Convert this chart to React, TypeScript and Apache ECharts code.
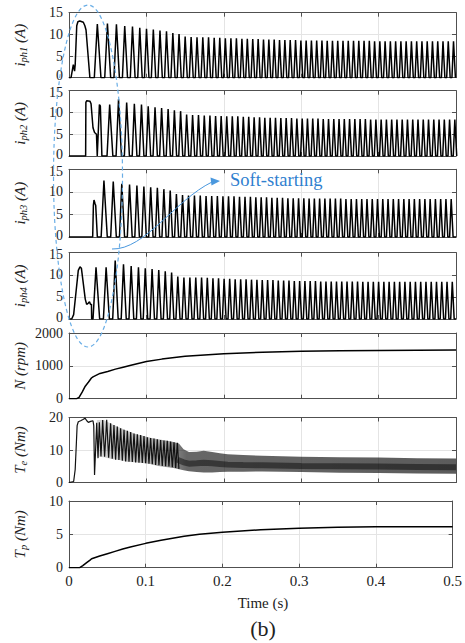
import React, { useEffect, useRef } from 'react';
import * as echarts from 'echarts';

// ---------- data (times in ms) ----------
const X_TICK_STEP = 0.1;

// phase 1 current: start-up transient points [ms, A], then regular pulses (peak time ms, peak A)
const PH1_START: [number, number][] = [[0, 0], [2.6, 0], [5.6, 3], [7.2, 1.5], [8, 3], [10, 12], [11.5, 12.9], [14, 13.1], [18.5, 12.8], [20.5, 12], [22, 11], [27, 0]];
const PH1_T = [37, 50, 61.6, 72.3, 82.3, 91.7, 100.4, 109.2, 117.8, 126.2, 134.4, 142.4, 150.3, 158.0, 165.6, 173.1, 180.5, 187.8, 195.0, 202.2, 209.4, 216.5, 223.6, 230.6, 237.6, 244.6, 251.5, 258.4, 265.3, 272.2, 279.1, 286.0, 292.9, 299.8, 306.6, 313.4, 320.2, 327.0, 333.8, 340.6, 347.4, 354.2, 361.0, 367.8, 374.6, 381.4, 388.2, 395.0, 401.8, 408.6, 415.4, 422.2, 429.0, 435.8, 442.6, 449.4, 456.2, 463.0, 469.8, 476.6, 483.4, 490.2, 497.0];
const PH1_A = [12.4, 12.5, 12.3, 11.9, 11.8, 11.5, 11.3, 11.1, 10.9, 10.7, 10.3, 10.1, 9.5, 9.4, 9.3, 9.3, 9.3, 9.2, 9.2, 9.1, 9.1, 9.1, 9.0, 9.0, 8.9, 8.9, 8.8, 8.8, 8.8, 8.7, 8.7, 8.7, 8.7, 8.6, 8.6, 8.6, 8.6, 8.6, 8.5, 8.5, 8.5, 8.5, 8.5, 8.5, 8.5, 8.5, 8.5, 8.4, 8.4, 8.4, 8.4, 8.4, 8.4, 8.4, 8.4, 8.4, 8.4, 8.4, 8.4, 8.4, 8.4, 8.4, 8.4];

const PH2_START: [number, number][] = [[0, 0], [21.5, 0], [21.8, 12.3], [23, 12.7], [27, 12.6], [28.5, 12], [31, 6.5], [33, 5.4], [35.5, 5], [36.5, 0], [37.3, 0], [39.3, 11.8], [40.5, 11.5], [42.5, 0]];
const PH2_T = [52.9, 64.3, 74.8, 84.7, 93.9, 102.6, 111.4, 119.9, 128.3, 136.4, 144.4, 152.2, 159.9, 167.5, 175.0, 182.3, 189.6, 196.8, 204.0, 211.2, 218.3, 225.4, 232.4, 239.4, 246.4, 253.2, 260.1, 267.0, 273.9, 280.8, 287.7, 294.6, 301.5, 308.3, 315.1, 321.9, 328.7, 335.5, 342.3, 349.1, 355.9, 362.7, 369.5, 376.3, 383.1, 389.9, 396.7, 403.5, 410.3, 417.1, 423.9, 430.7, 437.5, 444.3, 451.1, 457.9, 464.7, 471.5, 478.3, 485.1, 491.9, 498.7];
const PH2_A = [11.8, 13.0, 12.3, 12.0, 11.8, 11.4, 11.2, 11.0, 10.8, 10.5, 10.3, 9.5, 9.4, 9.4, 9.3, 9.3, 9.2, 9.2, 9.1, 9.1, 9.1, 9.0, 9.0, 8.9, 8.9, 8.8, 8.8, 8.8, 8.7, 8.7, 8.7, 8.6, 8.6, 8.6, 8.6, 8.6, 8.5, 8.5, 8.5, 8.5, 8.5, 8.5, 8.5, 8.5, 8.5, 8.4, 8.4, 8.4, 8.4, 8.4, 8.4, 8.4, 8.4, 8.4, 8.4, 8.4, 8.4, 8.4, 8.4, 8.4, 8.4, 8.4];

const PH3_START: [number, number][] = [[0, 0], [30.6, 0], [31.5, 7], [32.3, 8.2], [33.5, 7.5], [34.5, 7], [36.6, 0]];
const PH3_T = [45.5, 57.5, 68.5, 78.5, 88.0, 97.0, 105.8, 114.4, 122.8, 131.0, 139.0, 146.9, 154.6, 162.3, 169.8, 177.3, 184.6, 191.9, 199.1, 206.3, 213.4, 220.5, 227.6, 234.6, 241.6, 248.5, 255.4, 262.3, 269.2, 276.1, 283.0, 289.9, 296.8, 303.6, 310.4, 317.2, 324.0, 330.8, 337.6, 344.4, 351.2, 358.0, 364.8, 371.6, 378.4, 385.2, 392.0, 398.8, 405.6, 412.4, 419.2, 426.0, 432.8, 439.6, 446.4, 453.2, 460.0, 466.8, 473.6, 480.4, 487.2, 494.0];
const PH3_A = [12.5, 12.3, 11.8, 11.6, 11.4, 11.2, 11.0, 10.9, 10.6, 10.3, 9.5, 9.3, 9.2, 9.2, 9.2, 9.1, 9.1, 9.1, 9.0, 9.0, 9.0, 8.9, 8.9, 8.9, 8.8, 8.8, 8.8, 8.7, 8.7, 8.7, 8.6, 8.6, 8.6, 8.6, 8.5, 8.5, 8.5, 8.5, 8.5, 8.5, 8.5, 8.4, 8.4, 8.4, 8.4, 8.4, 8.4, 8.4, 8.4, 8.4, 8.4, 8.4, 8.4, 8.4, 8.4, 8.4, 8.4, 8.4, 8.4, 8.4, 8.4, 8.4];

const PH4_START: [number, number][] = [[0, 0], [3.5, 0], [6, 1], [9, 6], [12, 11], [14.2, 11.8], [16, 11.5], [18.5, 8], [21, 4.5], [22.8, 3.3], [25, 3.6], [26.5, 3.9], [28, 3.2], [29, 3.4], [29.3, 0]];
const PH4_T = [35.3, 48.3, 60.0, 70.7, 80.6, 90.0, 98.8, 107.6, 116.2, 124.6, 132.8, 140.8, 148.7, 156.4, 164.0, 171.5, 178.9, 186.2, 193.4, 200.6, 207.8, 214.9, 222.0, 229.0, 236.0, 243.0, 249.9, 256.8, 263.7, 270.6, 277.5, 284.4, 291.3, 298.2, 305.0, 311.8, 318.6, 325.4, 332.2, 339.0, 345.8, 352.6, 359.4, 366.2, 373.0, 379.8, 386.6, 393.4, 400.2, 407.0, 413.8, 420.6, 427.4, 434.2, 441.0, 447.8, 454.6, 461.4, 468.2, 475.0, 481.8, 488.6, 495.4];
const PH4_A = [11.7, 11.7, 13.2, 12.4, 12.0, 11.7, 11.5, 11.3, 11.1, 10.8, 10.5, 9.6, 9.4, 9.4, 9.4, 9.4, 9.3, 9.2, 9.2, 9.1, 9.1, 9.0, 9.0, 9.0, 8.9, 8.9, 8.8, 8.8, 8.8, 8.7, 8.7, 8.7, 8.6, 8.6, 8.6, 8.6, 8.6, 8.5, 8.5, 8.5, 8.5, 8.5, 8.5, 8.5, 8.5, 8.4, 8.4, 8.4, 8.4, 8.4, 8.4, 8.4, 8.4, 8.4, 8.4, 8.4, 8.4, 8.4, 8.4, 8.4, 8.4, 8.4, 8.4];

// speed [ms, rpm]
const SPEED: [number, number][] = [[0, 0], [10, 0], [13, 40], [17, 200], [21, 380], [25, 500], [29, 630], [31, 665], [40, 770], [50, 830], [60, 900], [70, 960], [80, 1020], [100, 1130], [120, 1205], [150, 1290], [200, 1370], [250, 1415], [300, 1443], [350, 1458], [400, 1467], [450, 1475], [500, 1482]];

// electromagnetic torque [ms, Nm]
const TE_START: [number, number][] = [[0, 0], [6, 0.3], [8, 4], [9.5, 12], [10.5, 17.5], [12, 18.7], [15, 19.0], [18, 19.4], [20.7, 19.8], [23, 19.0], [25, 18.5], [28, 18.8], [31, 19.0], [32, 17.5], [33, 2.3], [34.2, 9], [35.8, 18.4], [37.5, 7.5]];
const TE_SPIKE_T = [39.2, 43.5, 48.7, 53.8, 58.1, 62.4, 66.7, 71.1, 75.4, 79.7, 84.0, 88.3, 92.6, 96.9, 101.2, 105.5, 109.8, 114.1, 118.4, 122.7, 127.0, 131.3, 135.7, 140.0];
const TE_SPIKE_HI = [18.5, 19.2, 19.3, 18.2, 17.7, 17.2, 16.7, 16.2, 15.9, 15.5, 15.1, 14.8, 14.6, 14.3, 13.9, 13.7, 13.5, 13.3, 13.1, 12.9, 12.8, 12.6, 12.4, 12.2];
const TE_TROUGH_T = [41.3, 46.0, 51.2, 55.9, 60.2, 64.5, 68.9, 73.2, 77.5, 81.8, 86.1, 90.4, 94.7, 99.0, 103.3, 107.6, 111.9, 116.2, 120.5, 124.8, 129.1, 133.5, 137.8, 142.0];
const TE_TROUGH_LO = [8.0, 7.9, 7.6, 7.3, 7.0, 6.9, 6.7, 6.5, 6.4, 6.3, 6.2, 6.1, 6.0, 5.9, 5.8, 5.6, 5.4, 5.3, 5.1, 5.0, 4.9, 4.7, 4.5, 4.2];
const TE_ENV_T = [36, 45, 55, 65, 75, 85, 95, 105, 115, 125, 135, 142, 148, 155, 165, 174, 185, 195, 205, 225, 250, 300, 350, 400, 450, 500];
const TE_ENV_HI = [19.2, 19.2, 18.0, 16.9, 15.9, 15.0, 14.4, 13.8, 13.3, 12.9, 12.5, 12.0, 10.2, 9.4, 9.5, 9.8, 9.4, 9.0, 8.7, 8.5, 8.2, 7.9, 7.8, 7.7, 7.5, 7.4];
const TE_ENV_LO = [8.0, 7.8, 7.2, 6.9, 6.4, 6.2, 6.0, 5.7, 5.1, 4.8, 4.5, 4.1, 3.8, 3.5, 3.2, 3.1, 3.1, 3.2, 3.3, 3.3, 3.4, 3.2, 3.0, 2.9, 2.8, 2.7];
const TE_CORE: [number, number][] = [[140, 7.0], [148, 6.2], [155, 5.8], [165, 5.9], [174, 6.1], [185, 5.9], [195, 5.7], [205, 5.5], [225, 5.4], [250, 5.3], [300, 5.1], [350, 5.0], [400, 4.9], [450, 4.8], [500, 4.7]];

// load torque [ms, Nm]
const TP: [number, number][] = [[0, 0], [14, 0], [18, 0.3], [23, 0.75], [27, 1.1], [29.5, 1.35], [40, 1.75], [50, 2.1], [60, 2.45], [70, 2.8], [80, 3.1], [100, 3.65], [120, 4.1], [135, 4.4], [150, 4.7], [170, 5.0], [200, 5.3], [250, 5.7], [300, 5.9], [350, 6.05], [400, 6.15], [450, 6.15], [500, 6.15]];

const Y_RANGES = [
  { min: 0, max: 15, interval: 5 },
  { min: 0, max: 15, interval: 5 },
  { min: 0, max: 15, interval: 5 },
  { min: 0, max: 15, interval: 5 },
  { min: 0, max: 2000, interval: 1000 },
  { min: 0, max: 20, interval: 10 },
  { min: 0, max: 10, interval: 5 },
];
const Y_NAMES = ['{m|i}{s|ph1}{m| (A)}', '{m|i}{s|ph2}{m| (A)}', '{m|i}{s|ph3}{m| (A)}', '{m|i}{s|ph4}{m| (A)}', '{m|N (rpm)}', '{m|T}{s|e}{m| (Nm)}', '{m|T}{s|p}{m| (Nm)}'];

// ---------- layout ----------
const PANEL_TOP = [12.7, 90.7, 169.3, 252.7, 333, 417.5, 501];
const PANEL_H = [65, 65.3, 67.7, 66.3, 65.7, 65, 66.7];
const LEFT = 69;
const RIGHT = 9;
const SERIF = 'Liberation Serif';

const ms = (p: [number, number][]) => p.map(([t, v]) => [t / 1000, v]);

function buildPulses(start: [number, number][], times: number[], amps: number[]) {
  const pts: number[][] = ms(start);
  for (let k = 0; k < times.length; k++) {
    const T = k + 1 < times.length ? times[k + 1] - times[k] : times[k] - times[k - 1];
    const t = times[k];
    const a = amps[Math.min(k, amps.length - 1)];
    pts.push([(t - 0.33 * T) / 1000, 0], [(t - 0.03 * T) / 1000, a], [(t + 0.03 * T) / 1000, a], [(t + 0.33 * T) / 1000, 0]);
  }
  const last = pts[pts.length - 1][0];
  if (last < 0.5) pts.push([0.5, 0]);
  return pts;
}

function buildTe() {
  const pts: number[][] = ms(TE_START);
  for (let k = 0; k < TE_SPIKE_T.length; k++) {
    pts.push([TE_SPIKE_T[k] / 1000, TE_SPIKE_HI[k]]);
    pts.push([TE_TROUGH_T[k] / 1000, TE_TROUGH_LO[k]]);
  }
  return pts;
}

export default function App() {
  const ref = useRef<HTMLDivElement>(null);
  useEffect(() => {
    if (!ref.current) return;
    const chart = echarts.init(ref.current, null, { renderer: 'svg' });
    const frame = '#505050';
    const gridColor = '#e4e4e4';
    const grids = PANEL_TOP.map((top, i) => ({ left: LEFT, right: RIGHT, top, height: PANEL_H[i], show: false }));
    const xBottom = PANEL_TOP.map((_, i) => ({
      type: 'value', gridIndex: i, min: 0, max: 0.5, interval: X_TICK_STEP, position: 'bottom',
      axisLine: { show: true, onZero: false, lineStyle: { color: frame, width: 1 } },
      axisTick: { show: true, inside: true, length: 4, lineStyle: { color: frame } },
      axisLabel: { show: i === 6, color: '#222', fontFamily: SERIF, fontSize: 15, margin: 7, lineHeight: 12 },
      splitLine: { show: true, lineStyle: { color: gridColor, width: 1 } },
    }));
    const xTop = PANEL_TOP.map((_, i) => ({
      type: 'value', gridIndex: i, min: 0, max: 0.5, interval: X_TICK_STEP, position: 'top',
      axisLine: { show: true, onZero: false, lineStyle: { color: frame, width: 1 } },
      axisTick: { show: true, inside: true, length: 4, lineStyle: { color: frame } },
      axisLabel: { show: false }, splitLine: { show: false },
    }));
    const labelRich = {
      n: { fontFamily: SERIF, fontSize: 14, color: '#222', lineHeight: 12 },
      lo: { fontFamily: SERIF, fontSize: 14, color: '#222', lineHeight: 12, padding: [0, 0, 4, 0] },
      hi: { fontFamily: SERIF, fontSize: 14, color: '#222', lineHeight: 12, padding: [4, 0, 0, 0] },
    };
    const yLeft = Y_RANGES.map((r, i) => ({
      type: 'value', gridIndex: i, min: r.min, max: r.max, interval: r.interval, position: 'left',
      axisLine: { show: true, onZero: false, lineStyle: { color: frame, width: 1 } },
      axisTick: { show: true, inside: true, length: 4, lineStyle: { color: frame } },
      axisLabel: {
        show: true, color: '#222', fontFamily: SERIF, fontSize: 14, margin: 6, rich: labelRich,
        formatter: (v: number) => {
          if (i < 4 && v === r.min) return `{lo|${v}}`;
          if (i > 0 && i < 4 && v === r.max) return `{hi|${v}}`;
          return `{n|${v}}`;
        },
      },
      splitLine: { show: true, lineStyle: { color: gridColor, width: 1 } },
    }));
    const yRight = Y_RANGES.map((r, i) => ({
      type: 'value', gridIndex: i, min: r.min, max: r.max, interval: r.interval, position: 'right',
      axisLine: { show: true, onZero: false, lineStyle: { color: frame, width: 1 } },
      axisTick: { show: true, inside: true, length: 4, lineStyle: { color: frame } },
      axisLabel: { show: false }, splitLine: { show: false },
    }));

    const lineBase = (i: number, data: number[][], width = 1.5, color = '#000') => ({
      type: 'line', xAxisIndex: i, yAxisIndex: i, data, symbol: 'none', showSymbol: false, silent: true,
      clip: true, lineStyle: { color, width }, z: 3,
    });

    const bandFill = new echarts.graphic.LinearGradient(0, 0, 1, 0, [
      { offset: 0, color: 'rgba(0,0,0,0.15)' },
      { offset: 0.18, color: 'rgba(0,0,0,0.35)' },
      { offset: 0.25, color: 'rgba(0,0,0,0.6)' },
      { offset: 1, color: 'rgba(0,0,0,0.64)' },
    ]);

    const series: any[] = [
      lineBase(0, buildPulses(PH1_START, PH1_T, PH1_A)),
      lineBase(1, buildPulses(PH2_START, PH2_T, PH2_A)),
      lineBase(2, buildPulses(PH3_START, PH3_T, PH3_A)),
      lineBase(3, buildPulses(PH4_START, PH4_T, PH4_A)),
      lineBase(4, ms(SPEED), 1.5),
      {
        type: 'custom', xAxisIndex: 5, yAxisIndex: 5, silent: true, z: 2, clip: true,
        data: [[TE_ENV_T[0] / 1000, TE_ENV_LO[0]]],
        renderItem: (_p: any, api: any) => {
          const upper = TE_ENV_T.map((t, i) => api.coord([t / 1000, TE_ENV_HI[i]]));
          const lower = TE_ENV_T.map((t, i) => api.coord([t / 1000, TE_ENV_LO[i]])).reverse();
          return { type: 'polygon', shape: { points: [...upper, ...lower] }, style: { fill: bandFill, stroke: 'none' } };
        },
      },
      lineBase(5, ms(TE_CORE), 6, 'rgba(0,0,0,0.45)'),
      lineBase(5, buildTe(), 1.2, '#111'),
      lineBase(6, ms(TP), 1.5),
    ];

    const blue = '#2f80cf';
    const graphic: any[] = [];
    PANEL_TOP.forEach((top, i) => {
      graphic.push({
        type: 'text', x: 20, y: top + PANEL_H[i] / 2, rotation: Math.PI / 2, silent: true, z: 50,
        style: {
          text: Y_NAMES[i], align: 'center', verticalAlign: 'middle', fill: '#222',
          rich: {
            m: { fontFamily: SERIF, fontStyle: 'italic', fontSize: 15, lineHeight: 18, fill: '#222' },
            s: { fontFamily: SERIF, fontStyle: 'italic', fontSize: 10.5, lineHeight: 11, padding: [9, 0, 0, 0], verticalAlign: 'bottom', fill: '#222' },
          },
        },
      });
    });
    graphic.push(
      { type: 'text', x: 263, y: 603, silent: true, z: 50, style: { text: 'Time (s)', align: 'center', verticalAlign: 'middle', fontFamily: SERIF, fontSize: 15, fill: '#222' } },
      { type: 'text', x: 263, y: 628, silent: true, z: 50, style: { text: '(b)', align: 'center', verticalAlign: 'middle', fontFamily: SERIF, fontSize: 22, fill: '#222' } },
      {
        type: 'ellipse', x: 88, y: 176, silent: true, z: 100,
        shape: { cx: 0, cy: 0, rx: 34.5, ry: 171 },
        style: { fill: 'none', stroke: '#6aaee6', lineWidth: 1.2, lineDash: [4, 3] },
      },
      {
        type: 'bezierCurve', silent: true, z: 100,
        shape: { x1: 112, y1: 249, cpx1: 145, cpy1: 250, cpx2: 175, cpy2: 200, x2: 212, y2: 182 },
        style: { fill: 'none', stroke: '#4a98de', lineWidth: 1 },
      },
      {
        type: 'polygon', silent: true, z: 100,
        shape: { points: [[220, 181], [210.5, 177.5], [211.5, 185.5]] },
        style: { fill: '#4a98de', stroke: 'none' },
      },
      { type: 'text', x: 230, y: 180, silent: true, z: 100, style: { text: 'Soft-starting', align: 'left', verticalAlign: 'middle', fontFamily: SERIF, fontSize: 18.5, fill: blue } },
    );

    chart.setOption({
      animation: false,
      backgroundColor: '#fff',
      grid: grids,
      xAxis: [...xBottom, ...xTop],
      yAxis: [...yLeft, ...yRight],
      series,
      graphic,
    });
    return () => chart.dispose();
  }, []);
  return <div ref={ref} style={{ position: 'fixed', left: 0, top: 0, width: 465, height: 643 }} />;
}
